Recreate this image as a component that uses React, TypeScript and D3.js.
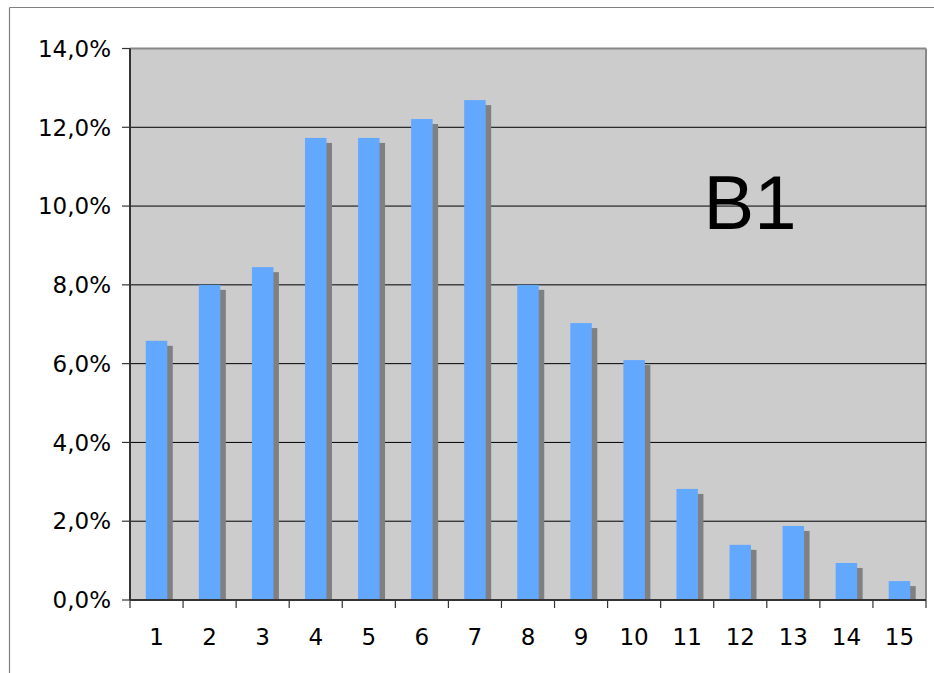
import React from "react";
import * as d3 from "d3";

const categories = ["1","2","3","4","5","6","7","8","9","10","11","12","13","14","15"];
const values = [6.58, 8.0, 8.45, 11.73, 11.73, 12.21, 12.69, 8.0, 7.03, 6.09, 2.82, 1.4, 1.88, 0.94, 0.48];
const yTicks = [0, 2, 4, 6, 8, 10, 12, 14];
const label = "B1";

export default function App() {
  const W = 934, H = 673;
  const left = 130, right = 926, top = 48.5, bottom = 600;
  const x = d3.scaleBand<string>().domain(categories).range([left, right]).paddingInner(0).paddingOuter(0);
  const y = d3.scaleLinear().domain([0, 14]).range([bottom, top]);
  const bw = x.bandwidth() * 0.405;
  const fmt = (v: number) => v.toFixed(1).replace(".", ",") + "%";
  const font = "DejaVu Sans, Verdana, sans-serif";
  return (
    <svg width={W} height={H} style={{ position: "absolute", left: 0, top: 0 }}>
      <rect x={0} y={0} width={W} height={H} fill="#fff" />
      <line x1={9.5} y1={7.5} x2={W + 5} y2={7.5} stroke="#808080" strokeWidth={1.2} />
      <line x1={9.5} y1={7.5} x2={9.5} y2={H + 5} stroke="#808080" strokeWidth={1.2} />
      <rect x={left} y={top} width={right - left} height={bottom - top} fill="#cccccc" />
      <line x1={left} y1={top} x2={right} y2={top} stroke="#888" strokeWidth={2} />
      <line x1={right} y1={top} x2={right} y2={bottom} stroke="#888" strokeWidth={2} />
      {yTicks.filter(t => t > 0 && t < 14).map(t => (
        <line key={"g" + t} x1={left} x2={right} y1={y(t)} y2={y(t)} stroke="#000" strokeWidth={1} />
      ))}
      <text x={750} y={228.5} fontFamily="Liberation Sans, Arial, sans-serif" fontSize={76} textAnchor="middle" fill="#000">{label}</text>
      {categories.map((c, i) => {
        const cx = (x(c) as number) + x.bandwidth() / 2;
        return (
          <g key={c}>
            <rect x={cx - bw / 2 + 5.5} y={y(values[i]) + 5} width={bw} height={bottom - y(values[i]) - 5} fill="#808080" />
            <rect x={cx - bw / 2} y={y(values[i])} width={bw} height={bottom - y(values[i])} fill="#63a8ff" />
          </g>
        );
      })}
      <line x1={left} y1={top} x2={left} y2={bottom} stroke="#333" strokeWidth={2} />
      <line x1={left} y1={bottom} x2={right} y2={bottom} stroke="#333" strokeWidth={2} />
      {yTicks.map(t => (
        <g key={"y" + t}>
          <line x1={122} x2={left} y1={y(t)} y2={y(t)} stroke="#333" strokeWidth={1.2} />
          <text x={111} y={y(t)} dy="0.36em" textAnchor="end" fontFamily={font} fontSize={23} fill="#000">{fmt(t)}</text>
        </g>
      ))}
      {d3.range(categories.length + 1).map(i => (
        <line key={"xt" + i} x1={left + i * x.bandwidth()} x2={left + i * x.bandwidth()} y1={bottom} y2={608} stroke="#333" strokeWidth={1.2} />
      ))}
      {categories.map(c => (
        <text key={"xl" + c} x={(x(c) as number) + x.bandwidth() / 2} y={645} textAnchor="middle" fontFamily={font} fontSize={23} fill="#000">{c}</text>
      ))}
    </svg>
  );
}
